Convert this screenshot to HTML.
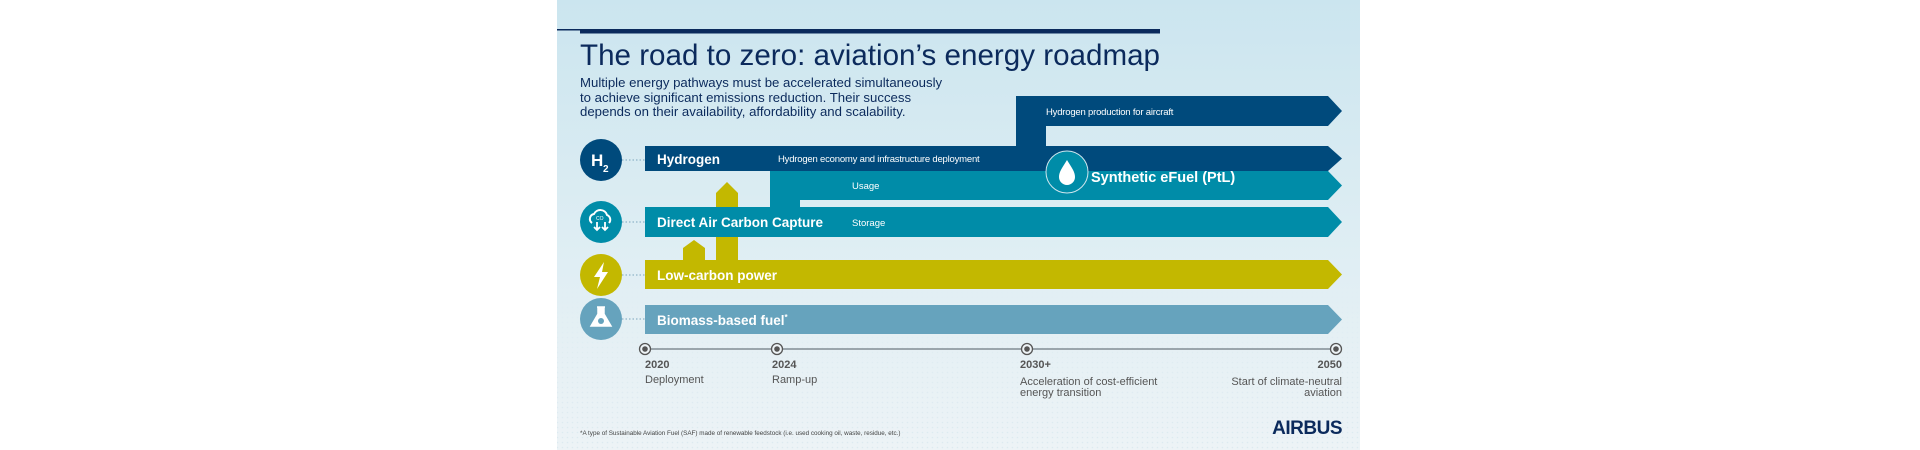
<!DOCTYPE html>
<html><head><meta charset="utf-8"><style>
html,body{margin:0;padding:0;background:#fff;width:1920px;height:450px;overflow:hidden}
svg{display:block}
text{font-family:"Liberation Sans",Arial,sans-serif}
</style></head><body>
<svg width="1920" height="450" viewBox="0 0 1920 450" xmlns="http://www.w3.org/2000/svg">
<defs>
<linearGradient id="bg" x1="0" y1="0" x2="0" y2="1">
<stop offset="0" stop-color="#cbe5ef"/><stop offset="0.5" stop-color="#ddedf3"/><stop offset="1" stop-color="#edf3f6"/>
</linearGradient>
<pattern id="dots" width="5" height="5" patternUnits="userSpaceOnUse"><circle cx="2.5" cy="2.5" r="0.8" fill="#c2dbe7"/></pattern>
<linearGradient id="fade" x1="0" y1="0" x2="0" y2="1"><stop offset="0" stop-color="#fff" stop-opacity="0"/><stop offset="1" stop-color="#fff" stop-opacity="0.8"/></linearGradient>
<mask id="m"><rect x="557" y="280" width="803" height="170" fill="url(#fade)"/></mask>
</defs>
<rect x="557" y="0" width="803" height="450" fill="url(#bg)"/>
<rect x="557" y="280" width="803" height="170" fill="url(#dots)" mask="url(#m)" opacity="0.5"/>
<rect x="557" y="29" width="23" height="1.5" fill="#0b2a5c"/>
<rect x="580" y="29" width="580" height="4.5" fill="#0b2a5c"/>
<text x="580" y="65" font-size="29.3" fill="#0b2a5c" textLength="580" lengthAdjust="spacingAndGlyphs">The road to zero: aviation’s energy roadmap</text>
<text font-size="13.2" fill="#0b2a5c"><tspan x="580" y="87">Multiple energy pathways must be accelerated simultaneously</tspan><tspan x="580" y="102">to achieve significant emissions reduction. Their success</tspan><tspan x="580" y="116">depends on their availability, affordability and scalability.</tspan></text>

<polygon points="716,193 727,182 738,193 738,262 716,262" fill="#c3b800"/>
<polygon points="683,248 694,240 705,248 705,262 683,262" fill="#c3b800"/>

<polygon points="1016,96 1328,96 1342,111 1328,126 1046,126 1046,147 1016,147" fill="#004a7c"/>
<text x="1046" y="115" font-size="9.5" fill="#fff" letter-spacing="-0.2">Hydrogen production for aircraft</text>
<polygon points="770,171 1328,171 1342,185.5 1328,200 800,200 800,208 770,208" fill="#008ca8"/>
<polygon points="645,146 1328,146 1342,158.5 1328,171 645,171" fill="#004a7c"/>
<text x="657" y="164" font-size="13.5" font-weight="bold" fill="#fff">Hydrogen</text>
<text x="778" y="162" font-size="9.5" fill="#fff" letter-spacing="-0.2">Hydrogen economy and infrastructure deployment</text>
<text x="852" y="189" font-size="9.5" fill="#fff">Usage</text>
<polygon points="645,207 1328,207 1342,222 1328,237 645,237" fill="#008ca8"/>
<text x="657" y="227" font-size="13.5" font-weight="bold" fill="#fff">Direct Air Carbon Capture</text>
<text x="852" y="226" font-size="9.5" fill="#fff">Storage</text>
<polygon points="645,260 1328,260 1342,274.5 1328,289 645,289" fill="#c3b800"/>
<text x="657" y="280" font-size="13.5" font-weight="bold" fill="#fff">Low-carbon power</text>
<polygon points="645,305 1328,305 1342,319.5 1328,334 645,334" fill="#66a3bd"/>
<text x="657" y="325" font-size="13.5" font-weight="bold" fill="#fff">Biomass-based fuel<tspan font-size="8" dy="-5">*</tspan></text>

<circle cx="1067" cy="172" r="21" fill="#008ca8" stroke="#cfe6ee" stroke-width="1"/>
<path d="M1067,160 C1062,168 1059,172 1059,177 A8,8 0 0 0 1075,177 C1075,172 1072,168 1067,160Z" fill="#fff"/>
<text x="1091" y="182" font-size="14.5" font-weight="bold" fill="#fff">Synthetic eFuel (PtL)</text>

<g stroke="#8fb4c8" stroke-width="1.2" stroke-dasharray="1.5 2">
<line x1="622" y1="160" x2="645" y2="160"/><line x1="622" y1="222" x2="645" y2="222"/>
<line x1="622" y1="275" x2="645" y2="275"/><line x1="622" y1="319" x2="645" y2="319"/>
</g>
<circle cx="601" cy="160" r="21" fill="#004a7c"/>
<text x="591" y="166" font-size="17" font-weight="bold" fill="#fff">H</text><text x="603" y="172" font-size="10" font-weight="bold" fill="#fff">2</text>
<circle cx="601" cy="222" r="21" fill="#008ca8"/>
<path d="M592,223 a5,5 0 0 1 2,-9 a7,7 0 0 1 13,1 a5,5 0 0 1 2,8" fill="none" stroke="#fff" stroke-width="2"/>
<text x="596" y="220" font-size="5" fill="#fff">CO</text>
<path d="M597,222 v8 m-3,-3 l3,3 l3,-3 M605,222 v8 m-3,-3 l3,3 l3,-3" stroke="#fff" stroke-width="1.8" fill="none"/>
<circle cx="601" cy="275" r="21" fill="#c3b800"/>
<polygon points="604,262 594,277 600,277 597,289 608,272 602,272" fill="#fff"/>
<circle cx="601" cy="319" r="21" fill="#66a3bd"/>
<path d="M597,307 h8 M598,307 v7 l-7,12 h20 l-7,-12 v-7" fill="#fff" stroke="#fff" stroke-width="1.5"/>
<circle cx="601" cy="321" r="3" fill="#66a3bd"/>

<line x1="645" y1="349" x2="1336" y2="349" stroke="#6d7880" stroke-width="1.2"/>
<g fill="#eef4f7" stroke="#555" stroke-width="1.3">
<circle cx="645" cy="349" r="5.5"/><circle cx="777" cy="349" r="5.5"/><circle cx="1027" cy="349" r="5.5"/><circle cx="1336" cy="349" r="5.5"/></g>
<g fill="#555"><circle cx="645" cy="349" r="2.8"/><circle cx="777" cy="349" r="2.8"/><circle cx="1027" cy="349" r="2.8"/><circle cx="1336" cy="349" r="2.8"/></g>
<g font-size="11" fill="#555">
<text x="645" y="368" font-weight="bold">2020</text><text x="645" y="383">Deployment</text>
<text x="772" y="368" font-weight="bold">2024</text><text x="772" y="383">Ramp-up</text>
<text x="1020" y="368" font-weight="bold">2030+</text><text x="1020" y="385">Acceleration of cost-efficient</text><text x="1020" y="396">energy transition</text>
<text x="1342" y="368" font-weight="bold" text-anchor="end">2050</text><text x="1342" y="385" text-anchor="end">Start of climate-neutral</text><text x="1342" y="396" text-anchor="end">aviation</text>
</g>
<text x="580" y="435" font-size="6.3" fill="#444">*A type of Sustainable Aviation Fuel (SAF) made of renewable feedstock (i.e. used cooking oil, waste, residue, etc.)</text>
<text x="1342" y="434" font-size="19" font-weight="bold" fill="#0b2a5c" text-anchor="end" letter-spacing="-0.5">AIRBUS</text>
</svg>
</body></html>
